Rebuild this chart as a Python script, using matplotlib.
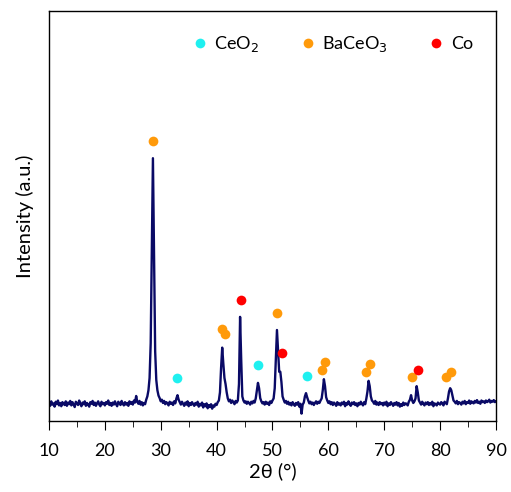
import numpy as np
import matplotlib
matplotlib.use("Agg")
from matplotlib import pyplot as plt
from matplotlib.ticker import MultipleLocator

plt.rcParams["font.family"] = ["Lato", "DejaVu Sans"]

# Diffraction pattern, 0.2 deg steps from 10 to 90 deg.
TWO_THETA_START = 10.0
TWO_THETA_STEP = 0.2
intensity = [
    45, 37, 48, 40, 43, 35, 47, 41, 50, 38,  # 10
    44, 36, 46, 42, 39, 48, 37, 45, 41, 49,  # 12
    38, 46, 40, 34, 47, 43, 39, 50, 42, 36,  # 14
    45, 41, 48, 37, 44, 40, 35, 46, 42, 49,  # 16
    39, 45, 37, 43, 48, 40, 36, 47, 41, 44,  # 18
    38, 46, 42, 50, 39, 44, 37, 45, 40, 48,  # 20
    41, 36, 47, 43, 39, 49, 42, 38, 46, 40,  # 22
    44, 37, 48, 42, 46, 40, 50, 45, 61, 47,  # 24
    42, 49, 40, 46, 38, 44, 41, 52, 60, 75,  # 26
    105, 190, 420, 641, 400, 170, 100, 75, 62, 56,  # 28
    48, 52, 44, 49, 41, 46, 43, 38, 47, 42,  # 30
    45, 39, 48, 43, 55, 63, 52, 46, 40, 47,  # 32
    42, 37, 45, 40, 48, 36, 44, 39, 46, 41,  # 34
    37, 44, 40, 47, 35, 42, 38, 45, 33, 41,  # 36
    36, 43, 31, 39, 34, 41, 30, 38, 35, 42,  # 38
    39, 46, 50, 70, 130, 179, 140, 105, 90, 70,  # 40
    55, 48, 52, 44, 50, 46, 41, 49, 45, 50,  # 42
    90, 254, 150, 60, 50, 45, 48, 42, 47, 44,  # 44
    40, 47, 43, 49, 45, 55, 75, 93, 80, 56,  # 46
    48, 43, 46, 40, 47, 42, 45, 39, 48, 44,  # 48
    50, 55, 80, 150, 222, 170, 120, 120, 95, 60,  # 50
    52, 45, 49, 42, 47, 40, 44, 38, 46, 41,  # 52
    37, 44, 40, 46, 35, 42, 18, 40, 45, 60,  # 54
    68, 58, 50, 43, 47, 41, 45, 39, 44, 48,  # 56
    42, 47, 44, 50, 55, 75, 102, 85, 58, 50,  # 58
    44, 48, 41, 46, 39, 45, 42, 37, 46, 40,  # 60
    43, 38, 45, 41, 47, 36, 44, 40, 48, 42,  # 62
    37, 45, 41, 46, 39, 43, 36, 44, 40, 47,  # 64
    42, 38, 46, 41, 55, 72, 98, 85, 60, 50,  # 66
    47, 42, 49, 40, 45, 39, 46, 41, 44, 38,  # 68
    45, 40, 47, 36, 43, 39, 46, 42, 37, 44,  # 70
    40, 46, 38, 44, 35, 41, 37, 45, 39, 43,  # 72
    42, 38, 47, 52, 63, 50, 44, 48, 55, 85,  # 74
    70, 50, 45, 40, 47, 42, 38, 45, 41, 46,  # 76
    39, 44, 40, 47, 36, 43, 41, 38, 45, 42,  # 78
    40, 46, 43, 38, 47, 44, 41, 55, 72, 80,  # 80
    75, 62, 50, 47, 43, 49, 41, 46, 44, 40,  # 82
    47, 43, 49, 41, 46, 44, 50, 42, 48, 45,  # 84
    43, 49, 45, 51, 44, 47, 42, 50, 46, 48,  # 86
    44, 50, 46, 48, 52, 45, 49, 47, 51, 46,  # 88
    48,  # 90
]

# Phase markers.
ceo2_x = [32.9, 47.4, 56.2]
ceo2_y = [106, 137, 110]
baceo3_x = [28.6, 40.9, 41.5, 50.8, 58.8, 59.4, 66.8, 67.4, 75.0, 81.1, 82.0]
baceo3_y = [684, 224, 213, 264, 124, 144, 120, 139, 107, 107, 120]
co_x = [44.3, 51.7, 76.0]
co_y = [295, 167, 125]

two_theta = TWO_THETA_START + TWO_THETA_STEP * np.arange(len(intensity))

fig = plt.figure(figsize=(5.11, 4.92), dpi=100)
ax = fig.add_axes([0.0959, 0.1443, 0.8747, 0.8333])

ax.plot(two_theta, intensity, color="#0a0a66", linewidth=1.7)

marker_style = dict(linestyle="none", marker="o", markersize=7, markeredgewidth=0)
ax.plot(ceo2_x, ceo2_y, color="#1ff0f0", label="CeO$_2$", **marker_style)
ax.plot(baceo3_x, baceo3_y, color="#ff9a0a", label="BaCeO$_3$", **marker_style)
ax.plot(co_x, co_y, color="#ff0000", label="Co", **marker_style)

ax.set_xlim(10, 90)
ax.set_ylim(0, 1000)
ax.xaxis.set_major_locator(MultipleLocator(10))
ax.xaxis.set_minor_locator(MultipleLocator(5))
ax.tick_params(axis="x", which="major", direction="out", length=6.5,
               pad=9.5, labelsize=13)
ax.tick_params(axis="x", which="minor", direction="out", length=4.5)
ax.set_yticks([])

for spine in ax.spines.values():
    spine.set_color("black")
    spine.set_linewidth(1.0)

ax.set_xlabel("2θ (°)", fontsize=14.5, labelpad=2)
ax.set_ylabel("Intensity (a.u.)", fontsize=14.5, labelpad=11)

ax.legend(
    loc="upper right",
    bbox_to_anchor=(0.985, 0.983),
    ncol=3,
    frameon=False,
    fontsize=13,
    handlelength=0.8,
    handletextpad=0.4,
    columnspacing=2.3,
)

fig.savefig("out.png", dpi=100)
